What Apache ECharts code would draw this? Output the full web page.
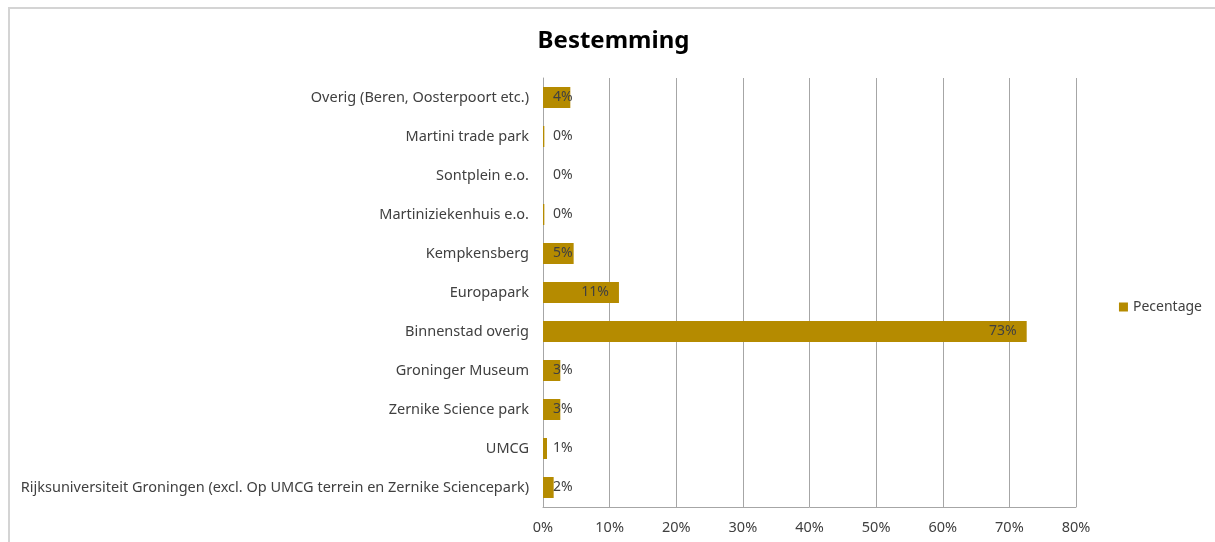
<!DOCTYPE html>
<html>
<head>
  <meta charset="utf-8">
  <title>Bestemming</title>
  <script src="https://cdn.jsdelivr.net/npm/echarts@6/dist/echarts.min.js"></script>
  <style>
    html, body { margin: 0; padding: 0; background: #fff; }
    #chart {
      position: absolute;
      left: 8px;
      top: 7px;
      width: 1207px;
      height: 535px;
      border-top: 2px solid #d4d4d4;
      border-left: 2px solid #d4d4d4;
    }
  </style>
</head>
<body>
  <div id="chart"></div>

  <script>
    // categories, bottom to top
    const categories = [
      'Rijksuniversiteit Groningen (excl. Op UMCG terrein en Zernike Sciencepark)',
      'UMCG',
      'Zernike Science park',
      'Groninger Museum',
      'Binnenstad overig',
      'Europapark',
      'Kempkensberg',
      'Martiniziekenhuis e.o.',
      'Sontplein e.o.',
      'Martini trade park',
      'Overig (Beren, Oosterpoort etc.)'
    ];
    // percentages
    const values = [1.6, 0.6, 2.6, 2.6, 72.6, 11.4, 4.6, 0.2, 0, 0.2, 4.1];
    // labels as shown
    const labels = ['2%', '1%', '3%', '3%', '73%', '11%', '5%', '0%', '0%', '0%', '4%'];
    const seriesName = 'Pecentage';

    const font = 'Noto Sans';
    const barColor = '#B58B00';

    const chart = echarts.init(document.getElementById('chart'));
    chart.setOption({
      animation: false,
      textStyle: { fontFamily: font },
      title: {
        text: 'Bestemming',
        left: 'center',
        top: 15,
        textStyle: { fontFamily: font, fontSize: 24, fontWeight: 'bold', color: '#000' }
      },
      legend: {
        data: [seriesName],
        right: 10,
        top: 286,
        orient: 'vertical',
        itemWidth: 9,
        itemHeight: 9,
        itemGap: 6,
        icon: 'rect',
        textStyle: { fontFamily: font, fontSize: 14, color: '#404040' }
      },
      grid: { left: 533, right: 141, top: 69, bottom: 37 },
      xAxis: {
        type: 'value',
        min: 0,
        max: 80,
        interval: 10,
        axisLine: { show: true, lineStyle: { color: '#a6a6a6', width: 1 } },
        axisTick: { show: false },
        splitLine: { lineStyle: { color: '#a6a6a6', width: 1 } },
        axisLabel: {
          formatter: v => v + '%',
          fontFamily: font,
          fontSize: 14.5,
          color: '#404040',
          margin: 13
        }
      },
      yAxis: {
        type: 'category',
        data: categories,
        axisLine: { show: true, lineStyle: { color: '#a6a6a6', width: 1 } },
        axisTick: { show: false },
        axisLabel: { fontFamily: font, fontSize: 14.5, color: '#404040', margin: 14 }
      },
      series: [{
        name: seriesName,
        type: 'bar',
        barWidth: 21,
        itemStyle: { color: barColor },
        data: values.map((v, i) => ({
          value: v,
          label: {
            show: true,
            position: v > 8 ? 'insideRight' : 'insideLeft',
            distance: 10,
            formatter: () => labels[i],
            fontFamily: font,
            fontSize: 14,
            color: '#404040'
          }
        }))
      }]
    });
  </script>
</body>
</html>
